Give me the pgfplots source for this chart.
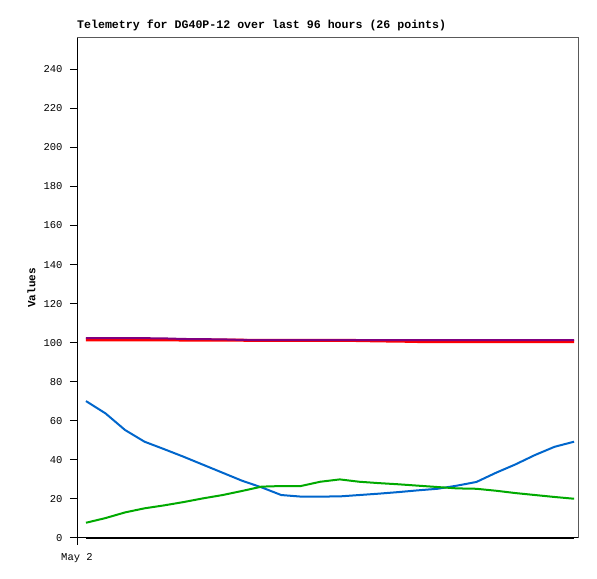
\documentclass[border=0pt]{standalone}
\usepackage{fontspec}
\newfontfamily\mono{Liberation Mono}
\usepackage{pgfplots}
\usepackage{pgfplotstable}
\pgfplotsset{compat=1.18}
\definecolor{cred}{RGB}{255,0,0}
\definecolor{cpurple}{RGB}{128,0,128}
\definecolor{cblue}{RGB}{0,102,204}
\definecolor{cgreen}{RGB}{0,170,0}
\pgfplotstableread{
x  red    purple blue  green zero
0  101.5  102.3  70.1  7.8   0
1  101.5  102.3  63.8  10.2  0
2  101.5  102.3  55.3  13.1  0
3  101.5  102.3  49.3  15.2  0
4  101.45 102.2  45.5  16.7  0
5  101.35 101.9  41.6  18.4  0
6  101.3  101.8  37.5  20.3  0
7  101.3  101.7  33.4  22.0  0
8  101.25 101.4  29.3  24.1  0
9  101.2  101.3  25.9  26.3  0
10 101.2  101.3  22.0  26.6  0
11 101.2  101.3  21.2  26.6  0
12 101.2  101.3  21.2  28.8  0
13 101.2  101.3  21.3  30.0  0
14 101.1  101.3  22.0  28.8  0
15 100.9  101.3  22.7  28.1  0
16 100.8  101.3  23.5  27.5  0
17 100.6  101.3  24.4  26.8  0
18 100.5  101.3  25.2  26.1  0
19 100.5  101.3  26.8  25.4  0
20 100.5  101.3  28.7  25.2  0
21 100.5  101.3  33.4  24.2  0
22 100.5  101.3  37.7  23.0  0
23 100.5  101.3  42.5  22.0  0
24 100.5  101.3  46.7  21.0  0
25 100.5  101.3  49.3  20.1  0
}\datatable
\begin{document}
\begin{tikzpicture}
\fill[white] (0,0) rectangle (597bp,579bp);
\useasboundingbox (0,0) rectangle (597bp,579bp);
\begin{axis}[
  at={(77bp,41bp)}, anchor=south west,
  scale only axis, width=501bp, height=500bp,
  xmin=-0.46, xmax=25.2, ymin=0, ymax=256,
  ytick={0,20,...,240},
  xtick={-0.46}, xticklabels={May 2},
  tick pos=left, tick align=outside, major tick length=7bp,
  tick style={black, line width=1bp},
  axis line style={draw=black!65, line width=1bp},
  ticklabel style={font=\mono\fontsize{10.5bp}{12bp}\selectfont},
  yticklabel style={xshift=-4bp},
  xticklabel style={yshift=-4.5bp},
  /pgf/number format/assume math mode=true,
  ylabel={Values},
  ylabel style={font=\mono\bfseries\fontsize{11bp}{13bp}\selectfont, at={(axis description cs:-0.0908,0.5)}, anchor=center},
  title={Telemetry for DG40P-12 over last 96 hours (26 points)},
  title style={font=\mono\bfseries\fontsize{11.6bp}{14bp}\selectfont, at={(axis description cs:0,1)}, anchor=base west, yshift=4bp, inner sep=0pt},
  clip=false,
  every axis plot/.append style={line width=2bp, no markers},
]
\addplot[cred, line width=3bp] table[x=x, y=red] {\datatable};
\addplot[cpurple] table[x=x, y=purple] {\datatable};
\addplot[cblue] table[x=x, y=blue] {\datatable};
\addplot[cgreen] table[x=x, y=green] {\datatable};
\addplot[black] table[x=x, y=zero] {\datatable};
\draw[black, line width=1bp] (rel axis cs:0,1) -- (rel axis cs:0,0) -- (rel axis cs:1,0);
\end{axis}
\end{tikzpicture}
\end{document}
